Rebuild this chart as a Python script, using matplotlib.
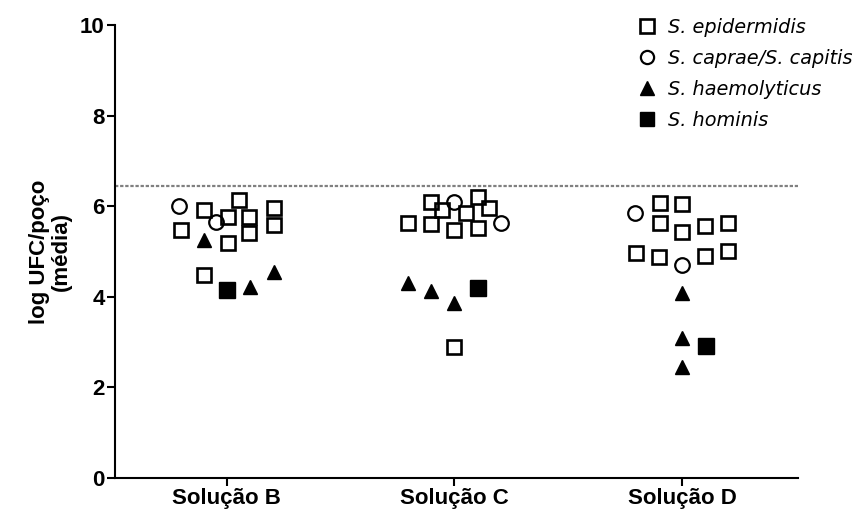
import matplotlib
matplotlib.use("Agg")
import matplotlib.pyplot as plt
from matplotlib.lines import Line2D
import numpy as np

categories = ["Solução B", "Solução C", "Solução D"]

# S. epidermidis (open squares)
epi_group = [0]*10 + [1]*10 + [2]*10
epi_offset = [-0.20, -0.10, 0.006, 0.053, 0.10, 0.10, 0.006, 0.21, 0.21, -0.10,
              -0.205, -0.10, -0.10, -0.053, 0.0, 0.051, 0.103, 0.103, 0.154, 0.0,
              -0.097, -0.097, 0.0, 0.0, 0.101, 0.204, -0.202, -0.099, 0.101, 0.204]
epi_values = [5.47, 5.92, 5.77, 6.14, 5.77, 5.40, 5.18, 5.95, 5.59, 4.48,
              5.64, 6.10, 5.60, 5.92, 5.47, 5.84, 6.21, 5.51, 5.95, 2.90,
              6.06, 5.62, 6.04, 5.44, 5.56, 5.64, 4.97, 4.87, 4.90, 5.00]

# S. caprae / S. capitis (open circles)
cap_group = [0, 0, 1, 1, 2, 2]
cap_offset = [-0.207, -0.045, 0.0, 0.205, -0.204, 0.0]
cap_values = [6.00, 5.66, 6.10, 5.62, 5.84, 4.70]

# S. haemolyticus (filled triangles)
hae_group = [0, 0, 0, 1, 1, 1, 2, 2, 2]
hae_offset = [-0.097, 0.105, 0.207, -0.201, -0.102, 0.0, 0.0, 0.0, 0.0]
hae_values = [5.25, 4.21, 4.54, 4.30, 4.13, 3.86, 4.08, 3.08, 2.46]

# S. hominis (filled squares)
hom_group = [0, 1, 2]
hom_offset = [0.003, 0.103, 0.105]
hom_values = [4.15, 4.20, 2.91]

threshold = 6.45

legend_labels = ["S. epidermidis", "S. caprae/S. capitis", "S. haemolyticus", "S. hominis"]

fig = plt.figure(figsize=(8.56, 5.12), dpi=100)
ax = fig.add_axes([115/856, 1-478/512, (798-115)/856, (478-25)/512])

def xs(group, offset):
    return np.array(group, dtype=float) + np.array(offset)

ax.axhline(threshold, color="#808080", lw=1.6, linestyle=(0, (1.5, 0.8)), zorder=1)

ax.plot(xs(epi_group, epi_offset), epi_values, linestyle="none", marker="s",
        markersize=10.5, markerfacecolor="none", markeredgecolor="black", markeredgewidth=1.9)
ax.plot(xs(cap_group, cap_offset), cap_values, linestyle="none", marker="o",
        markersize=10.5, markerfacecolor="none", markeredgecolor="black", markeredgewidth=1.6)
ax.plot(xs(hae_group, hae_offset), hae_values, linestyle="none", marker="^",
        markersize=10, color="black")
ax.plot(xs(hom_group, hom_offset), hom_values, linestyle="none", marker="s",
        markersize=11.5, color="black")

ax.set_xlim(-0.49, 2.51)
ax.set_ylim(0, 10)
ax.set_xticks(range(len(categories)))
ax.set_xticklabels(categories)
ax.set_yticks([0, 2, 4, 6, 8, 10])

for side in ["top", "right"]:
    ax.spines[side].set_visible(False)
for side in ["left", "bottom"]:
    ax.spines[side].set_linewidth(1.5)

ax.tick_params(axis="both", direction="out", length=6, width=1.5,
               labelsize=16, pad=1.5)
for lab in ax.get_xticklabels() + ax.get_yticklabels():
    lab.set_fontfamily("Liberation Sans")
    lab.set_fontweight("bold")

ax.set_ylabel("log UFC/poço\n(média)", fontfamily="Liberation Sans",
              fontweight="bold", fontsize=16, linespacing=1.0, labelpad=6)

handles = [
    Line2D([], [], linestyle="none", marker="s", markersize=9.5, markerfacecolor="none",
           markeredgecolor="black", markeredgewidth=1.9),
    Line2D([], [], linestyle="none", marker="o", markersize=9.5, markerfacecolor="none",
           markeredgecolor="black", markeredgewidth=1.6),
    Line2D([], [], linestyle="none", marker="^", markersize=9.5, color="black"),
    Line2D([], [], linestyle="none", marker="s", markersize=9.5, color="black"),
]
leg = fig.legend(handles, legend_labels, loc="upper left",
                 bbox_to_anchor=(627.7/856, 1-8.5/512), frameon=False,
                 handlelength=1.0, handletextpad=0.59, labelspacing=0.62,
                 borderpad=0, prop={"family": "DejaVu Sans", "style": "italic", "size": 13.9})

fig.savefig("out.png", dpi=100)
